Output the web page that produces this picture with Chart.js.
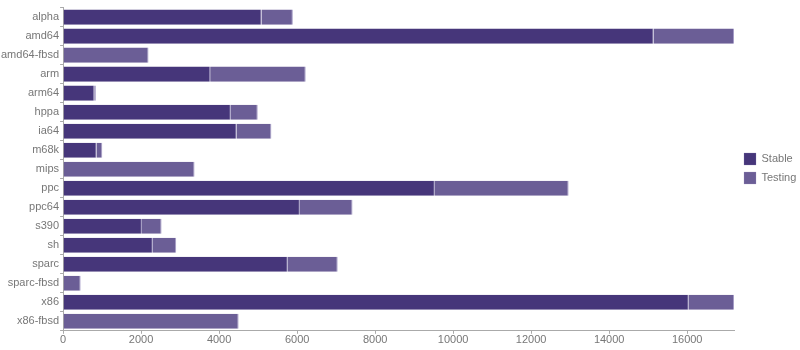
<!DOCTYPE html>
<html>
<head>
<meta charset="utf-8">
<script src="https://cdn.jsdelivr.net/npm/chart.js@4/dist/chart.umd.min.js"></script>
<style>
  html, body { margin: 0; padding: 0; background: #fff; }
  #wrap { width: 800px; height: 350px; }
</style>
</head>
<body>
<div id="wrap"><canvas id="c" width="800" height="350"></canvas></div>
<script>
// Package counts per architecture keyword
const arches = ['alpha', 'amd64', 'amd64-fbsd', 'arm', 'arm64', 'hppa', 'ia64', 'm68k', 'mips',
                'ppc', 'ppc64', 's390', 'sh', 'sparc', 'sparc-fbsd', 'x86', 'x86-fbsd'];
const stable  = [5090, 15140, 0, 3770, 800, 4300, 4450, 860, 0, 9530, 6070, 2020, 2300, 5760, 0, 16040, 0];
const testing = [800, 2060, 2190, 2450, 40, 690, 890, 145, 3370, 3430, 1350, 505, 600, 1280, 450, 1160, 4500];
const xTicks = [0, 2000, 4000, 6000, 8000, 10000, 12000, 14000, 16000];
const xMax = 17200;

const textColor = '#777777';
const axisColor = '#aaaaaa';
const font = { family: '"Liberation Sans", Arial, sans-serif', size: 11 };

// Nudge the legend block a little after the layout pass
const legendNudge = {
  id: 'legendNudge',
  afterLayout(chart) {
    const lg = chart.legend;
    if (!lg) return;
    lg.left += 3; lg.right += 3;
    lg.top -= 7; lg.bottom -= 7;
  }
};

new Chart(document.getElementById('c'), {
  type: 'bar',
  data: {
    labels: arches,
    datasets: [
      { label: 'Stable', data: stable, backgroundColor: '#46367a',
        borderColor: '#8b80b2', borderWidth: { right: 1, left: 0, top: 0, bottom: 0 }, borderSkipped: false },
      { label: 'Testing', data: testing, backgroundColor: '#6b5e96',
        borderColor: '#a59cc6', borderWidth: { right: 1, left: 0, top: 0, bottom: 0 }, borderSkipped: false }
    ]
  },
  plugins: [legendNudge],
  options: {
    indexAxis: 'y',
    responsive: false,
    animation: false,
    maintainAspectRatio: false,
    layout: { padding: { top: 4, right: 0, left: 0, bottom: 3 } },
    datasets: { bar: { categoryPercentage: 0.8, barPercentage: 0.99 } },
    plugins: {
      tooltip: { enabled: false },
      legend: {
        position: 'right',
        maxWidth: 66,
        labels: { boxWidth: 12, boxHeight: 12, padding: 7, color: textColor, font: font }
      }
    },
    scales: {
      x: {
        stacked: true,
        min: 0,
        max: xMax,
        afterBuildTicks: (scale) => {
          scale.ticks = xTicks.map(v => ({ value: v }));
        },
        ticks: { color: textColor, font: font, padding: 0, maxRotation: 0,
                 callback: (v) => String(v) },
        grid: { drawOnChartArea: false, drawTicks: true, tickLength: 3, color: axisColor },
        border: { display: true, color: axisColor }
      },
      y: {
        stacked: true,
        ticks: { color: textColor, font: font, padding: 1, autoSkip: false },
        grid: { drawOnChartArea: false, drawTicks: true, tickLength: 3, color: axisColor },
        border: { display: true, color: axisColor }
      }
    }
  }
});
</script>
</body>
</html>
